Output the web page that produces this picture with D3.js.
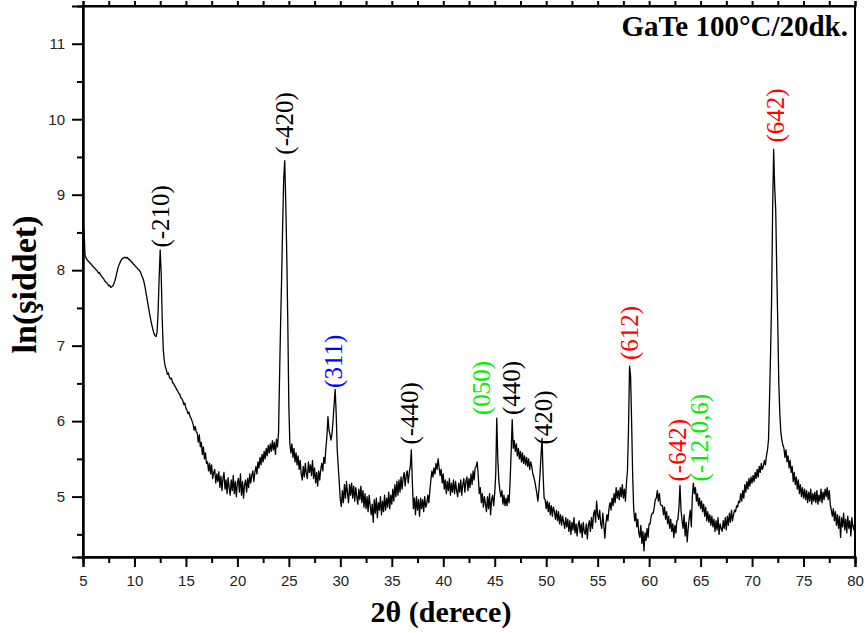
<!DOCTYPE html>
<html><head><meta charset="utf-8">
<script src="https://cdn.jsdelivr.net/npm/d3@7"></script>
<style>
html,body{margin:0;padding:0;background:#fff;}
svg{display:block;}
</style></head>
<body>
<svg id="chart" width="868" height="633"></svg>
<script>
// ---- data ----
const scanStart = 5.0;      // 2θ of first sample
const scanStep = 0.1;       // 2θ step
// ln(intensity), one row per degree (x.0 ... x.9)
const lnIntensity = [
 8.55,8.20,8.16,8.14,8.12,8.11,8.09,8.08,8.06,8.05,
 8.03,8.02,8.00,7.99,7.96,7.97,7.94,7.92,7.90,7.89,
 7.86,7.85,7.83,7.82,7.79,7.80,7.77,7.78,7.79,7.82,
 7.86,7.91,7.97,8.03,8.07,8.10,8.13,8.15,8.16,8.17,
 8.17,8.16,8.17,8.15,8.14,8.13,8.11,8.10,8.08,8.07,
 8.05,8.04,8.02,8.01,7.99,7.97,7.93,7.90,7.86,7.80,
 7.72,7.64,7.56,7.48,7.40,7.33,7.27,7.21,7.16,7.13,
 7.12,7.18,7.45,7.90,8.27,7.95,7.35,6.95,6.80,6.72,
 6.68,6.62,6.64,6.58,6.56,6.57,6.51,6.50,6.47,6.45,
 6.42,6.40,6.37,6.36,6.31,6.30,6.27,6.22,6.24,6.17,
 6.15,6.10,6.12,6.06,6.04,6.00,5.96,5.88,5.93,5.86,
 5.84,5.72,5.82,5.66,5.72,5.56,5.66,5.50,5.58,5.44,
 5.46,5.34,5.44,5.30,5.42,5.24,5.32,5.36,5.18,5.30,
 5.20,5.33,5.12,5.27,5.08,5.24,5.32,5.10,5.22,5.04,
 5.25,5.12,5.02,5.22,5.08,5.28,5.04,5.20,5.00,5.18,
 5.24,5.06,5.30,5.02,5.20,4.98,5.16,5.22,5.06,5.24,
 5.12,5.30,5.18,5.28,5.34,5.20,5.32,5.40,5.30,5.46,
 5.38,5.52,5.42,5.56,5.46,5.60,5.50,5.64,5.54,5.68,
 5.58,5.70,5.60,5.74,5.62,5.72,5.56,5.76,5.66,5.85,
 6.60,7.30,7.90,8.60,9.20,9.45,8.90,8.20,7.30,6.20,
 5.70,5.58,5.70,5.52,5.64,5.46,5.58,5.42,5.54,5.36,
 5.48,5.30,5.22,5.40,5.26,5.44,5.30,5.24,5.46,5.32,
 5.42,5.28,5.48,5.24,5.38,5.18,5.32,5.14,5.34,5.22,
 5.36,5.44,5.34,5.52,5.44,5.64,5.80,6.06,5.88,5.82,
 5.75,5.84,6.02,6.22,6.42,6.10,5.62,5.40,5.18,4.96,
 4.87,5.08,4.92,5.16,4.98,5.20,5.04,4.92,5.16,5.02,
 5.18,4.98,5.14,4.94,5.12,5.00,4.90,5.10,4.96,5.14,
 4.92,5.08,4.86,5.04,4.84,5.00,4.80,5.02,4.88,4.76,
 4.90,4.66,4.96,4.78,4.98,4.72,4.92,4.82,5.00,4.76,
 4.94,4.80,5.02,4.82,4.98,4.86,5.06,4.84,5.02,4.90,
 5.10,4.94,5.16,5.00,5.20,5.02,5.22,5.06,5.26,5.10,
 5.24,5.32,5.14,5.28,5.34,5.18,5.32,5.40,5.62,5.18,
 4.84,4.98,4.76,5.00,4.82,4.96,4.74,4.98,4.84,4.96,
 4.80,5.00,4.86,4.90,5.02,4.92,5.08,5.22,5.34,5.26,
 5.38,5.30,5.44,5.36,5.50,5.38,5.28,5.36,5.18,5.30,
 5.10,5.22,5.04,5.20,5.08,5.24,5.02,5.18,5.06,5.22,
 5.04,5.20,5.08,5.00,5.18,5.06,5.22,5.02,5.16,5.24,
 5.06,5.20,5.26,5.08,5.24,5.12,5.30,5.16,5.34,5.22,
 5.38,5.40,5.46,5.28,5.04,5.12,4.92,5.04,4.86,5.00,
 4.90,4.80,5.00,4.84,5.04,4.76,4.96,5.02,4.88,5.04,
 5.30,6.04,5.50,5.22,5.08,5.00,5.08,4.90,5.02,4.88,
 4.98,4.88,5.02,4.92,5.22,5.60,6.02,5.64,5.74,5.60,
 5.70,5.54,5.64,5.50,5.60,5.46,5.58,5.44,5.54,5.42,
 5.52,5.40,5.50,5.36,5.46,5.40,5.30,5.26,5.20,5.12,
 5.04,4.94,5.10,5.30,5.55,5.77,5.30,4.98,4.96,4.84,
 4.94,4.80,4.92,4.76,4.88,4.74,4.86,4.80,4.70,4.82,
 4.68,4.80,4.64,4.76,4.62,4.74,4.66,4.58,4.72,4.60,
 4.70,4.54,4.68,4.50,4.66,4.56,4.72,4.52,4.64,4.48,
 4.62,4.68,4.52,4.64,4.46,4.66,4.54,4.50,4.64,4.44,
 4.62,4.68,4.54,4.72,4.58,4.76,4.82,4.66,4.94,4.76,
 4.70,4.82,4.64,4.58,4.78,4.62,4.45,4.64,4.76,4.68,
 4.84,4.92,4.82,4.98,4.88,5.04,4.92,5.12,4.98,5.08,
 4.96,5.12,5.00,5.16,4.98,5.10,4.94,5.18,5.35,5.90,
 6.73,6.60,6.00,5.30,4.85,4.68,4.78,4.60,4.70,4.52,
 4.46,4.62,4.38,4.54,4.28,4.52,4.42,4.58,4.46,4.64,
 4.64,4.74,4.78,4.78,4.86,4.96,4.98,5.08,4.94,5.04,
 4.90,4.88,4.88,4.76,4.86,4.70,4.80,4.64,4.74,4.58,
 4.70,4.54,4.64,4.46,4.62,4.52,4.68,4.70,4.85,5.15,
 4.82,4.68,4.58,4.76,4.48,4.66,4.40,4.58,4.72,4.82,
 4.60,5.00,5.18,5.04,5.12,4.94,5.04,4.88,4.98,4.84,
 4.94,4.80,4.90,4.74,4.86,4.68,4.80,4.66,4.76,4.62,
 4.74,4.60,4.70,4.54,4.68,4.56,4.72,4.50,4.64,4.58,
 4.54,4.68,4.58,4.72,4.56,4.74,4.62,4.78,4.66,4.82,
 4.68,4.76,4.82,4.80,4.88,4.86,4.94,4.92,5.04,4.94,
 5.08,4.98,5.16,5.06,5.20,5.10,5.24,5.14,5.26,5.18,
 5.28,5.20,5.32,5.24,5.36,5.26,5.40,5.32,5.44,5.36,
 5.40,5.48,5.42,5.54,5.62,5.75,6.30,6.90,7.60,8.80,
 9.60,9.10,8.80,8.00,7.30,6.50,6.10,5.85,5.75,5.68,
 5.64,5.52,5.62,5.46,5.54,5.38,5.48,5.32,5.40,5.20,
 5.32,5.16,5.26,5.10,5.22,5.04,5.16,5.00,5.12,4.98,
 5.10,4.96,5.08,4.92,5.06,4.94,5.10,4.90,5.04,4.94,
 5.06,4.92,5.08,4.90,5.02,4.94,5.10,4.92,5.06,4.96,
 5.10,5.00,5.12,4.96,5.08,4.90,4.82,4.74,4.84,4.68,
 4.80,4.62,4.76,4.58,4.74,4.46,4.72,4.60,4.78,4.56,
 4.70,4.52,4.74,4.58,4.68,4.48,4.72,4.60,4.56,4.68,
 4.60
];

// peak labels (Miller indices)
const peakLabels = ["(-210)","(-420)","(311)","(-440)","(050)","(440)","(420)","(612)","(-642)","(-12,0,6)","(642)"];
const peakLabelPos = [12.51, 24.62, 29.39, 36.78, 43.78, 46.70, 49.72, 58.09, 62.76, 64.90, 72.29];
const peakLabelBase = [8.30, 9.53, 6.44, 5.69, 6.08, 6.08, 5.69, 6.81, 5.20, 5.20, 9.69];
const peakLabelColor = ["#000","#000","#0000ff","#000","#00ee00","#000","#000","#ff0000","#ff0000","#00ee00","#ff0000"];

const xMajorTicks = [5,10,15,20,25,30,35,40,45,50,55,60,65,70,75,80];
const xMinorTicks = [7.5,12.5,17.5,22.5,27.5,32.5,37.5,42.5,47.5,52.5,57.5,62.5,67.5,72.5,77.5];
const yMajorTicks = [5,6,7,8,9,10,11];
const yMinorTicks = [4.5,5.5,6.5,7.5,8.5,9.5,10.5];

const xTitle = "2θ (derece)";
const yTitle = "ln(şiddet)";
const sampleTitle = "GaTe 100°C/20dk.";

// ---- layout ----
const W = 868, H = 633;
const margin = {left: 83, right: 13, top: 6, bottom: 76};
const iw = W - margin.left - margin.right;
const ih = H - margin.top - margin.bottom;

const svg = d3.select("#chart");
const g = svg.append("g").attr("transform", `translate(${margin.left},${margin.top})`);

const x = d3.scaleLinear().domain([5, 80]).range([0, iw]);
const y = d3.scaleLinear().domain([4.2, 11.5]).range([ih, 0]);

const points = lnIntensity.map((v, i) => [scanStart + i * scanStep, v]);

svg.append("defs").append("clipPath").attr("id", "clip")
  .append("rect").attr("x", 1).attr("width", iw).attr("height", ih);

// data line
g.append("path")
  .datum(points)
  .attr("clip-path", "url(#clip)")
  .attr("fill", "none")
  .attr("stroke", "#000")
  .attr("stroke-width", 1.3)
  .attr("stroke-linejoin", "round")
  .attr("d", d3.line().x(d => x(d[0]) + 1).y(d => y(d[1])));

// frame
g.append("rect").attr("width", iw).attr("height", ih)
  .attr("fill", "none").attr("stroke", "#000").attr("stroke-width", 2);

const tickFont = "'Liberation Sans', Arial, sans-serif";

// bottom axis
const xAxis = g.append("g").attr("transform", `translate(0,${ih})`)
  .call(d3.axisBottom(x).tickValues(xMajorTicks).tickSize(10).tickPadding(8).tickFormat(d3.format("d")));
const xAxisMinor = g.append("g").attr("transform", `translate(0,${ih})`)
  .call(d3.axisBottom(x).tickValues(xMinorTicks).tickSize(6).tickFormat(""));
// top mirror ticks
const xTop = g.append("g")
  .call(d3.axisTop(x).tickValues(xMajorTicks.concat(xMinorTicks)).tickSize(5).tickFormat(""));

// left axis
const yAxis = g.append("g")
  .call(d3.axisLeft(y).tickValues(yMajorTicks).tickSize(11).tickPadding(7).tickFormat(d3.format("d")));
const yAxisMinor = g.append("g")
  .call(d3.axisLeft(y).tickValues(yMinorTicks).tickSize(6).tickFormat(""));

[xAxis, xAxisMinor, xTop, yAxis, yAxisMinor].forEach(a => {
  a.select(".domain").attr("stroke", "#000").attr("stroke-width", 2);
  a.selectAll(".tick line").attr("stroke", "#000").attr("stroke-width", 2);
  a.selectAll(".tick text").attr("fill", "#222").style("font-family", tickFont).style("font-size", "15px");
});

// peak labels
peakLabels.forEach((t, i) => {
  const px = x(peakLabelPos[i]), py = y(peakLabelBase[i]);
  g.append("text")
    .attr("transform", `translate(${px},${py}) rotate(-90)`)
    .attr("dy", "0.33em")
    .attr("text-anchor", "start")
    .attr("fill", peakLabelColor[i])
    .style("font-family", "'Liberation Serif','Times New Roman',serif")
    .style("font-size", "25px")
    .text(t);
});

// sample title
g.append("text")
  .attr("x", iw - 7).attr("y", 30)
  .attr("text-anchor", "end")
  .style("font-family", "'Liberation Serif','Times New Roman',serif")
  .style("font-weight", "bold")
  .style("font-size", "29px")
  .text(sampleTitle);

// axis titles
svg.append("text")
  .attr("x", 441).attr("y", 622)
  .attr("text-anchor", "middle")
  .style("font-family", "'Liberation Serif','Times New Roman',serif")
  .style("font-weight", "bold")
  .style("font-size", "30px")
  .text(xTitle);

svg.append("text")
  .attr("transform", `translate(36,${margin.top + ih / 2 + 3}) rotate(-90)`)
  .attr("text-anchor", "middle")
  .style("font-family", "'Liberation Serif','Times New Roman',serif")
  .style("font-weight", "bold")
  .style("font-size", "34px")
  .text(yTitle);
</script>
</body></html>
